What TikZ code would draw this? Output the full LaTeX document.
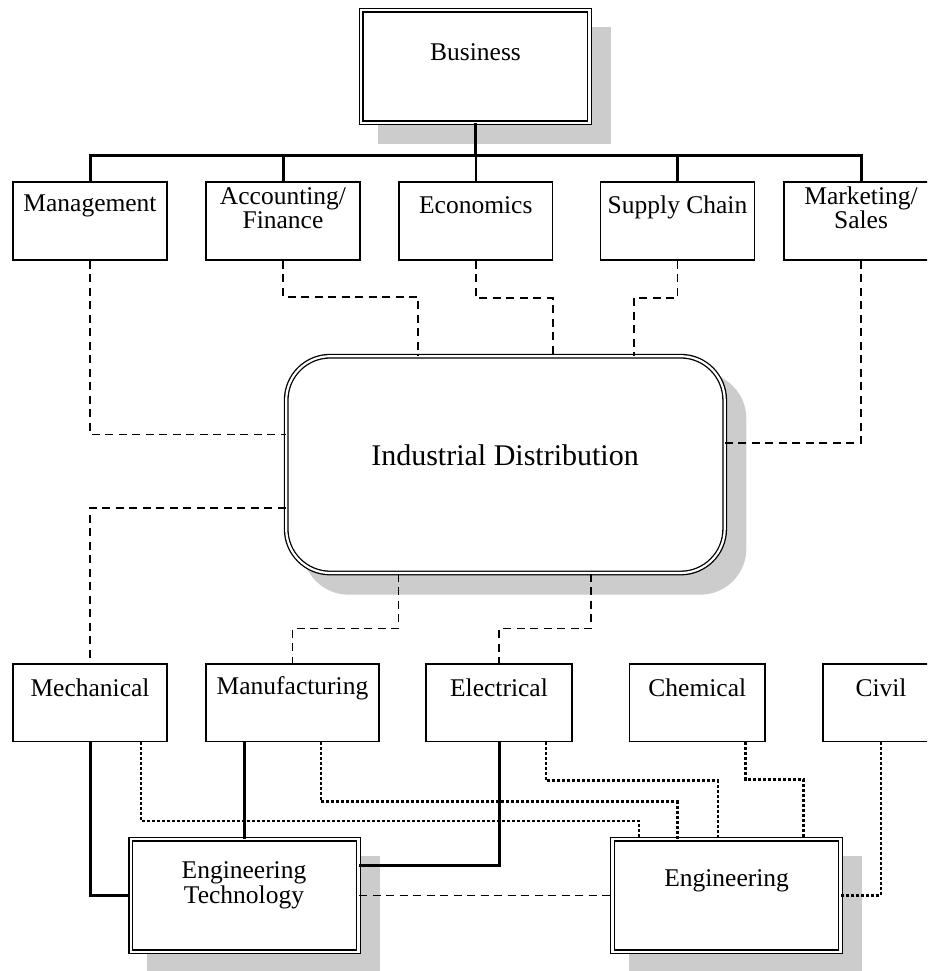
\documentclass[tikz,border=0pt]{standalone}
\usepackage{fontspec}
\setmainfont{Liberation Serif}
\usetikzlibrary{backgrounds,calc}
\definecolor{shadowc}{RGB}{204,204,204}
\begin{document}
\begin{tikzpicture}[x=1pt,y=-1pt,
  sbox/.style={draw, line width=1.5pt, inner sep=0pt, fill=white},
  dbox/.style={draw, line width=1.3pt, double, double distance=2.2pt, inner sep=0pt, fill=white},
  lbl/.style={inner sep=0pt, align=center, font=\fontsize{25.5}{21}\selectfont},
  thk/.style={line width=3pt},
  thn/.style={line width=1.6pt},
  dsh/.style={line width=1.6pt, dash pattern=on 8pt off 5.5pt},
  dotc/.style={line width=2.6pt, dash pattern=on 3pt off 2pt}]
\useasboundingbox (0,0) rectangle (927,971);
\clip (0,0) rectangle (927,971);

% top
\node[dbox, minimum width=228.2pt, minimum height=112.5pt] (biz) at (475.4,66.5) {};
\node[lbl] (tbiz) at (475.5,52) {Business};

\node[sbox, minimum width=154pt, minimum height=78pt] (mgmt) at (90,221) {};
\node[sbox, minimum width=154pt, minimum height=78pt] (acc) at (283,221) {};
\node[sbox, minimum width=153.6pt, minimum height=78pt] (eco) at (475.8,221) {};
\node[sbox, minimum width=154pt, minimum height=78pt] (sup) at (677.5,221) {};
\node[sbox, minimum width=154pt, minimum height=78pt] (mkt) at (861,221) {};
\node[lbl] (tmgmt) at (90,206) {Management};
\node[lbl] (tacc) at (283,208) {Accounting/\\Finance};
\node[lbl] (teco) at (475.8,205) {Economics};
\node[lbl] (tsup) at (677.5,207) {Supply Chain};
\node[lbl] (tmkt) at (861,208) {Marketing/\\Sales};

% middle
\node[draw, line width=1.3pt, double, double distance=2.2pt, inner sep=0pt, fill=white,
      rounded corners=44pt, minimum width=438.5pt, minimum height=216.8pt] (id) at (505.45,464.6) {};
\node[inner sep=0pt, font=\fontsize{30}{32}\selectfont] (tid) at (505,455) {Industrial Distribution};

% bottom row
\node[sbox, minimum width=154pt, minimum height=77.3pt] (mech) at (90,702.65) {};
\node[sbox, minimum width=173pt, minimum height=77.3pt] (manu) at (292.5,702.65) {};
\node[sbox, minimum width=146pt, minimum height=77.3pt] (elec) at (499,702.65) {};
\node[sbox, minimum width=135.4pt, minimum height=77.3pt] (chem) at (697.3,702.65) {};
\node[sbox, minimum width=116pt, minimum height=77.3pt] (civil) at (881,702.65) {};
\node[lbl] (tmech) at (90,688) {Mechanical};
\node[lbl] (tmanu) at (292.5,688) {Manufacturing};
\node[lbl] (telec) at (499,688) {Electrical};
\node[lbl] (tchem) at (697.3,688) {Chemical};
\node[lbl] (tcivil) at (881,688) {Civil};

\node[dbox, minimum width=227.7pt, minimum height=112.5pt] (et) at (244.65,895.45) {};
\node[lbl, font=\fontsize{25.5}{25}\selectfont] (tet) at (244,885) {Engineering\\Technology};
\node[dbox, minimum width=228.1pt, minimum height=112.5pt] (eng) at (726.45,895.45) {};
\node[lbl] (teng) at (726.6,881) {Engineering};

% shadows
\begin{scope}[on background layer]
  \fill[shadowc] ([shift={(17,17)}]biz.north west) rectangle ([shift={(21,21)}]biz.south east);
  \fill[shadowc, rounded corners=46pt] ([shift={(17,17)}]id.north west) rectangle ([shift={(21,21)}]id.south east);
  \fill[shadowc] ([shift={(17,17)}]et.north west) rectangle ([shift={(21,21)}]et.south east);
  \fill[shadowc] ([shift={(17,17)}]eng.north west) rectangle ([shift={(21,21)}]eng.south east);
\end{scope}

% business tree
\coordinate (bus) at (475.4,155);
\draw[thk] (biz.south) -- (bus);
\draw[thk] (mgmt.north) |- (bus) -| (mkt.north);
\draw[thk] (acc.north) -- (acc.north |- bus);
\draw[thk] (sup.north) -- (sup.north |- bus);
\draw[thn] (eco.north) -- (eco.north |- bus);

% dashed to industrial distribution
\draw[dsh] (mgmt.south) |- ([yshift=30.3pt]id.west);
\draw[dsh] (acc.south) -- ++(0,36) -| ([xshift=-87.45pt]id.north);
\draw[dsh] (eco.south) -- ++(0,37) -| ([xshift=47.25pt]id.north);
\draw[dsh] (sup.south) -- ++(0,37) -| ([xshift=128.55pt]id.north);
\draw[dsh] (mkt.south) |- ([yshift=21.6pt]id.east);
\draw[dsh] ([yshift=-43.4pt]id.west) -| (mech.north);
\draw[dsh] ([xshift=-107.15pt]id.south) -- ++(0,55) -| (manu.north);
\draw[dsh] ([xshift=85.55pt]id.south) -- ++(0,55) -| (elec.north);

% bottom solid
\draw[thk] (mech.south) |- (et.west);
\draw[thk] (manu.south -| et.north) -- (et.north);
\draw[thk] (elec.south) |- ([yshift=30.45pt]et.east);
\draw[dsh] (et.east) -- (eng.west);

% bottom dotted
\draw[dotc] ([xshift=50.8pt]mech.south) -- ++(0,79) -| ([xshift=-87.45pt]eng.north);
\draw[dotc] ([xshift=28.5pt]manu.south) -- ++(0,59.7) -| ([xshift=-48.95pt]eng.north);
\draw[dotc] ([xshift=47pt]elec.south) -- ++(0,38.7) -| ([xshift=-8.45pt]eng.north);
\draw[dotc] ([xshift=48.3pt]chem.south) -- ++(0,37.4) -| ([xshift=77.15pt]eng.north);
\draw[dotc] (civil.south) |- (eng.east);
\end{tikzpicture}
\end{document}
